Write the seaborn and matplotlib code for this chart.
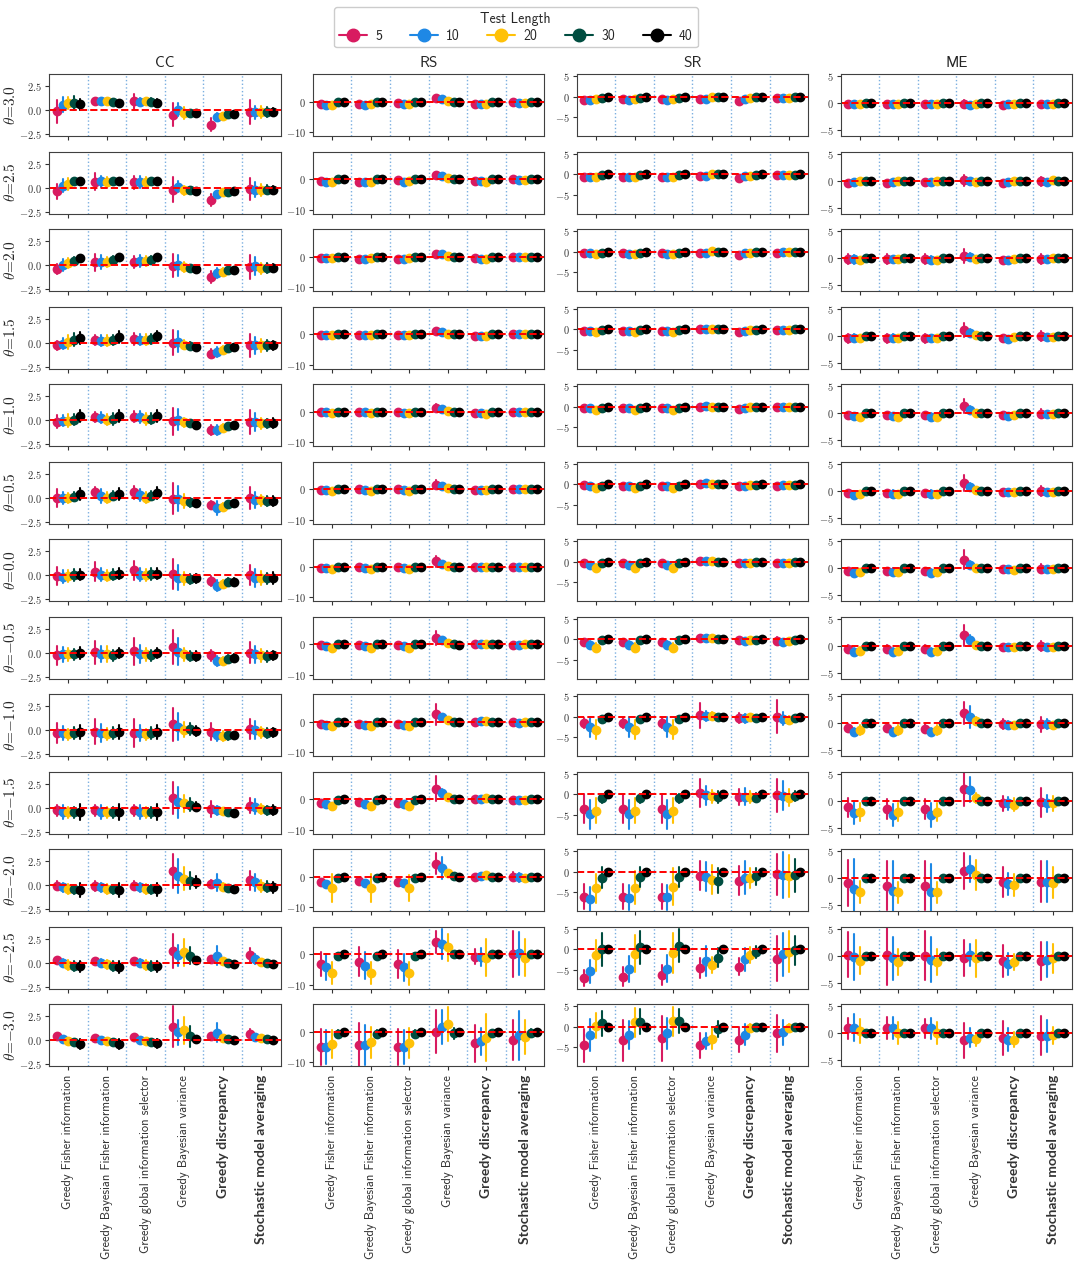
import numpy as np
import pandas as pd
import matplotlib.pyplot as plt
import seaborn as sns
from matplotlib.lines import Line2D
from matplotlib.ticker import FuncFormatter

# ---- categories ----
methods = ["Greedy Fisher information", "Greedy Bayesian Fisher information",
           "Greedy global information selector", "Greedy Bayesian variance",
           "Greedy discrepancy", "Stochastic model averaging"]
bold_methods = ["Greedy discrepancy", "Stochastic model averaging"]
lengths = ["5", "10", "20", "30", "40"]
colors = ["#D81B60", "#1E88E5", "#FFC107", "#004D40", "#000000"]
thetas = [3.0, 2.5, 2.0, 1.5, 1.0, 0.5, 0.0, -0.5, -1.0, -1.5, -2.0, -2.5, -3.0]
metrics = ["CC", "RS", "SR", "ME"]

# ---- values: one row per theta, 6 methods x 5 test lengths (point, half interval) ----
cc_mid = [
    [-0.1, 0.55, 0.75, 0.75, 0.6,  0.9, 0.9, 0.9, 0.8, 0.7,  0.9, 0.85, 0.9, 0.85, 0.75,  -0.5, 0.05, -0.3, -0.35, -0.3,  -1.5, -0.7, -0.6, -0.4, -0.4,  -0.2, -0.25, -0.2, -0.2, -0.2],
    [-0.4, 0.2, 0.4, 0.65, 0.65,  0.6, 0.65, 0.6, 0.7, 0.7,  0.55, 0.6, 0.6, 0.7, 0.7,  -0.2, 0.1, -0.3, -0.3, -0.35,  -1.3, -0.65, -0.5, -0.45, -0.4,  -0.15, -0.2, -0.25, -0.2, -0.2],
    [-0.4, 0.0, 0.2, 0.45, 0.7,  0.3, 0.3, 0.35, 0.55, 0.8,  0.3, 0.45, 0.4, 0.55, 0.8,  -0.05, 0.0, -0.2, -0.35, -0.45,  -1.25, -0.8, -0.7, -0.55, -0.5,  -0.2, -0.1, -0.35, -0.3, -0.3],
    [-0.3, -0.1, 0.05, 0.3, 0.5,  0.3, 0.2, 0.2, 0.3, 0.6,  0.4, 0.3, 0.3, 0.4, 0.65,  0.0, 0.1, -0.2, -0.35, -0.45,  -1.15, -1.0, -0.8, -0.6, -0.5,  -0.3, -0.3, -0.3, -0.3, -0.3],
    [-0.15, -0.05, -0.05, 0.05, 0.45,  0.35, 0.25, 0.05, 0.1, 0.45,  0.35, 0.3, 0.1, 0.15, 0.45,  -0.1, 0.05, -0.25, -0.35, -0.55,  -1.05, -1.0, -0.85, -0.65, -0.55,  -0.2, -0.2, -0.35, -0.35, -0.3],
    [-0.05, -0.05, -0.05, 0.1, 0.35,  0.55, 0.15, 0.0, 0.2, 0.4,  0.55, 0.25, 0.0, 0.2, 0.45,  -0.1, -0.1, -0.35, -0.5, -0.55,  -0.8, -1.1, -0.95, -0.7, -0.6,  -0.05, -0.25, -0.3, -0.35, -0.35],
    [-0.1, -0.15, -0.1, 0.0, 0.05,  0.35, 0.05, -0.05, 0.05, 0.15,  0.5, 0.05, 0.0, 0.1, 0.15,  0.1, -0.3, -0.35, -0.4, -0.35,  -0.6, -1.1, -0.9, -0.7, -0.7,  0.0, -0.3, -0.3, -0.35, -0.3],
    [-0.3, -0.2, -0.2, -0.2, -0.05,  0.05, -0.15, -0.15, -0.3, -0.05,  0.15, -0.15, -0.2, -0.3, -0.05,  0.6, 0.1, -0.2, -0.35, -0.35,  -0.3, -0.9, -0.85, -0.7, -0.6,  0.0, -0.2, -0.3, -0.4, -0.3],
    [-0.3, -0.3, -0.45, -0.3, -0.2,  -0.2, -0.3, -0.4, -0.3, -0.2,  -0.3, -0.3, -0.45, -0.3, -0.2,  0.6, 0.35, 0.05, 0.1, -0.1,  -0.15, -0.55, -0.6, -0.5, -0.5,  0.1, 0.0, -0.25, -0.3, -0.25],
    [-0.3, -0.45, -0.5, -0.5, -0.45,  -0.3, -0.45, -0.5, -0.5, -0.45,  -0.3, -0.45, -0.5, -0.5, -0.45,  1.0, 0.55, 0.45, 0.3, 0.1,  -0.15, -0.3, -0.4, -0.45, -0.55,  0.2, 0.1, -0.15, -0.3, -0.25],
    [-0.05, -0.25, -0.4, -0.45, -0.5,  -0.1, -0.25, -0.4, -0.45, -0.5,  -0.05, -0.25, -0.4, -0.45, -0.45,  1.45, 0.95, 0.65, 0.45, 0.3,  0.1, 0.25, -0.15, -0.3, -0.4,  0.5, 0.3, -0.1, -0.15, -0.25],
    [0.3, -0.05, -0.25, -0.35, -0.4,  0.2, -0.05, -0.2, -0.35, -0.45,  0.2, -0.05, -0.25, -0.35, -0.4,  1.2, 0.75, 1.05, 0.7, 0.25,  0.4, 0.7, 0.15, 0.0, -0.1,  0.75, 0.35, 0.1, -0.05, -0.1],
    [0.4, 0.1, -0.05, -0.2, -0.4,  0.25, 0.05, -0.05, -0.2, -0.4,  0.3, 0.05, -0.05, -0.2, -0.35,  1.4, 0.8, 1.0, 0.4, 0.15,  0.4, 0.75, 0.2, 0.1, 0.05,  0.6, 0.35, 0.2, 0.1, 0.05],
]
cc_err = [
    [1.2, 0.8, 0.6, 0.7, 0.6,  0.4, 0.4, 0.4, 0.4, 0.4,  0.8, 0.4, 0.4, 0.4, 0.4,  1.2, 0.7, 0.6, 0.4, 0.3,  0.7, 0.4, 0.25, 0.15, 0.1,  1.2, 0.7, 0.6, 0.5, 0.4],
    [0.8, 0.7, 0.6, 0.3, 0.3,  0.9, 0.6, 0.5, 0.2, 0.2,  0.7, 0.6, 0.5, 0.2, 0.2,  1.3, 0.6, 0.5, 0.4, 0.3,  0.6, 0.3, 0.2, 0.15, 0.1,  1.1, 0.8, 0.6, 0.5, 0.4],
    [0.5, 0.6, 0.5, 0.4, 0.3,  0.9, 0.7, 0.5, 0.4, 0.3,  0.6, 0.6, 0.5, 0.4, 0.3,  1.2, 1.1, 0.5, 0.4, 0.3,  0.6, 0.5, 0.4, 0.2, 0.15,  1.2, 0.9, 0.6, 0.5, 0.4],
    [0.5, 0.6, 0.7, 0.7, 0.6,  0.5, 0.6, 0.6, 0.5, 0.6,  0.6, 0.6, 0.6, 0.5, 0.6,  1.3, 1.1, 0.5, 0.4, 0.3,  0.5, 0.5, 0.4, 0.3, 0.2,  1.2, 0.9, 0.7, 0.6, 0.5],
    [0.7, 0.6, 0.7, 0.6, 0.6,  0.5, 0.6, 0.6, 0.6, 0.6,  0.6, 0.6, 0.6, 0.6, 0.6,  1.4, 1.1, 0.5, 0.4, 0.4,  0.5, 0.5, 0.4, 0.3, 0.2,  1.2, 0.9, 0.6, 0.5, 0.5],
    [0.9, 0.6, 0.5, 0.5, 0.6,  0.6, 0.7, 0.6, 0.5, 0.6,  0.7, 0.6, 0.6, 0.5, 0.6,  1.6, 1.3, 0.7, 0.5, 0.4,  0.4, 0.7, 0.4, 0.3, 0.2,  1.1, 0.8, 0.6, 0.5, 0.5],
    [0.9, 0.7, 0.6, 0.6, 0.6,  1.0, 0.7, 0.6, 0.6, 0.6,  1.0, 0.7, 0.6, 0.6, 0.6,  1.6, 1.3, 0.7, 0.5, 0.5,  0.5, 0.6, 0.4, 0.4, 0.4,  1.0, 0.9, 0.7, 0.6, 0.6],
    [1.0, 0.8, 0.7, 0.6, 0.6,  1.2, 0.8, 0.8, 0.6, 0.5,  1.4, 0.9, 0.7, 0.6, 0.5,  1.8, 1.4, 0.7, 0.5, 0.5,  0.6, 0.5, 0.4, 0.4, 0.4,  1.1, 0.9, 0.7, 0.6, 0.5],
    [1.0, 0.7, 0.6, 0.6, 0.7,  1.3, 0.9, 0.6, 0.6, 0.7,  1.5, 0.8, 0.6, 0.6, 0.7,  1.7, 1.4, 0.8, 0.6, 0.5,  0.9, 0.6, 0.5, 0.5, 0.3,  1.0, 0.9, 0.6, 0.5, 0.5],
    [0.6, 0.7, 0.6, 0.6, 0.8,  0.6, 0.7, 0.6, 0.6, 0.8,  0.6, 0.7, 0.6, 0.6, 0.8,  1.7, 1.6, 0.9, 0.7, 0.5,  0.8, 0.5, 0.4, 0.4, 0.3,  0.8, 0.8, 0.5, 0.5, 0.5],
    [0.5, 0.5, 0.5, 0.5, 0.7,  0.5, 0.5, 0.5, 0.5, 0.7,  0.5, 0.5, 0.5, 0.5, 0.7,  1.8, 1.8, 1.2, 0.9, 0.6,  0.4, 0.9, 0.4, 0.3, 0.3,  1.0, 0.9, 0.6, 0.6, 0.6],
    [0.3, 0.4, 0.5, 0.5, 0.6,  0.3, 0.4, 0.5, 0.5, 0.6,  0.3, 0.4, 0.5, 0.5, 0.6,  1.8, 1.1, 1.4, 0.9, 0.2,  0.3, 1.0, 0.3, 0.2, 0.2,  0.8, 0.5, 0.3, 0.2, 0.3],
    [0.2, 0.2, 0.3, 0.3, 0.5,  0.2, 0.2, 0.3, 0.3, 0.5,  0.2, 0.2, 0.3, 0.3, 0.5,  2.1, 1.3, 1.4, 1.1, 0.2,  0.2, 1.0, 0.2, 0.1, 0.1,  0.5, 0.3, 0.2, 0.1, 0.1],
]

rs_mid = [
    [-0.9, -1.0, -1.0, -0.2, 0.0,  -0.9, -1.0, -0.8, -0.2, 0.0,  -0.3, -0.9, -0.6, -0.2, 0.0,  1.3, 0.9, 0.3, -0.1, -0.1,  -0.6, -0.7, -0.9, -0.1, 0.0,  -0.2, -0.3, -0.3, -0.2, 0.0],
    [-0.7, -0.8, -0.8, -0.1, 0.0,  -0.8, -0.9, -0.8, -0.1, 0.0,  -0.4, -0.8, -0.6, -0.1, 0.0,  1.4, 1.0, 0.3, 0.0, 0.0,  -0.6, -0.7, -0.8, -0.1, 0.0,  -0.1, -0.2, -0.2, -0.1, 0.0],
    [-0.5, -0.5, -0.4, -0.1, 0.0,  -0.6, -0.6, -0.5, -0.1, 0.0,  -0.6, -0.6, -0.5, -0.1, 0.0,  1.0, 0.8, 0.2, -0.1, -0.1,  -0.5, -0.6, -0.7, -0.1, 0.0,  0.0, 0.0, 0.0, 0.0, 0.0],
    [-0.3, -0.3, -0.3, 0.0, 0.0,  -0.3, -0.3, -0.4, 0.0, 0.0,  -0.4, -0.4, -0.4, 0.0, 0.0,  1.1, 0.7, 0.2, -0.1, -0.1,  -0.5, -0.5, -0.6, 0.0, 0.0,  0.0, 0.0, 0.0, 0.0, 0.0],
    [-0.2, -0.2, -0.3, 0.0, 0.0,  -0.1, -0.2, -0.3, 0.0, 0.0,  -0.2, -0.3, -0.3, 0.0, 0.0,  1.3, 0.8, 0.2, -0.1, -0.1,  -0.4, -0.5, -0.6, 0.0, 0.0,  0.0, 0.0, -0.1, 0.0, 0.0],
    [-0.2, -0.3, -0.6, 0.0, 0.0,  0.0, -0.2, -0.6, 0.0, 0.0,  -0.1, -0.2, -0.6, 0.0, 0.0,  1.5, 1.0, 0.3, -0.1, -0.1,  -0.2, -0.3, -0.4, 0.0, 0.0,  0.0, -0.1, -0.1, 0.0, 0.0],
    [-0.3, -0.4, -0.9, -0.1, 0.0,  -0.2, -0.4, -0.9, -0.1, 0.0,  -0.2, -0.4, -0.9, -0.1, 0.0,  1.8, 1.0, 0.3, -0.1, -0.2,  -0.2, -0.2, -0.1, 0.0, 0.0,  0.0, -0.1, -0.2, 0.0, 0.0],
    [-0.3, -0.6, -1.1, -0.1, 0.0,  -0.3, -0.6, -1.1, -0.1, 0.0,  -0.3, -0.6, -1.1, -0.1, 0.0,  2.0, 1.2, 0.3, -0.1, -0.2,  -0.1, 0.0, 0.0, 0.0, 0.0,  -0.2, -0.2, -0.1, 0.0, 0.0],
    [-0.7, -1.0, -1.4, -0.1, 0.0,  -0.7, -1.0, -1.4, -0.1, 0.0,  -0.7, -1.0, -1.4, -0.1, 0.0,  2.4, 1.5, 0.6, -0.1, -0.1,  0.0, 0.2, 0.2, 0.0, 0.0,  -0.1, -0.3, -0.1, 0.0, 0.0],
    [-1.2, -1.5, -2.2, -0.2, 0.0,  -1.0, -1.5, -2.1, -0.2, 0.0,  -1.1, -1.5, -2.2, -0.2, 0.0,  3.4, 2.0, 0.8, 0.0, -0.1,  0.0, 0.2, 0.3, 0.0, 0.0,  -0.2, -0.2, -0.3, 0.0, 0.0],
    [-1.7, -2.3, -3.8, -0.3, 0.0,  -1.4, -2.2, -3.7, -0.3, 0.0,  -1.8, -2.2, -3.7, -0.3, 0.0,  4.2, 2.8, 1.2, 0.2, 0.0,  0.0, 0.1, 0.4, 0.0, 0.0,  0.0, -0.2, -0.4, 0.0, 0.0],
    [-3.2, -4.3, -6.2, -0.6, 0.0,  -2.4, -3.8, -6.2, -0.6, 0.0,  -3.2, -4.2, -6.2, -0.6, 0.0,  4.0, 3.3, 2.2, 0.2, 0.0,  -0.8, -1.0, -1.2, -0.1, 0.0,  0.2, 0.3, -1.1, 0.0, 0.0],
    [-5.0, -5.0, -4.0, -0.8, 0.0,  -4.3, -4.5, -3.5, -0.8, 0.0,  -5.0, -5.0, -3.7, -0.8, 0.0,  0.0, 1.5, 2.4, -0.5, -0.2,  -3.8, -3.2, -2.0, -0.5, 0.0,  -2.8, -1.2, -1.8, -0.5, 0.0],
]
rs_err = [
    [0.5, 0.4, 0.4, 0.3, 0.2,  0.5, 0.4, 0.4, 0.3, 0.2,  0.5, 0.4, 0.4, 0.3, 0.2,  0.9, 0.5, 0.4, 0.3, 0.2,  0.5, 0.4, 0.4, 0.3, 0.2,  0.5, 0.4, 0.4, 0.3, 0.2],
    [0.5, 0.4, 0.4, 0.3, 0.2,  0.5, 0.4, 0.4, 0.3, 0.2,  0.5, 0.4, 0.4, 0.3, 0.2,  0.9, 0.5, 0.4, 0.3, 0.2,  0.5, 0.4, 0.4, 0.3, 0.2,  0.5, 0.4, 0.4, 0.3, 0.2],
    [0.5, 0.4, 0.4, 0.3, 0.2,  0.5, 0.4, 0.4, 0.3, 0.2,  0.5, 0.4, 0.4, 0.3, 0.2,  0.9, 0.5, 0.4, 0.3, 0.2,  0.5, 0.4, 0.4, 0.3, 0.2,  0.5, 0.4, 0.4, 0.3, 0.2],
    [0.5, 0.4, 0.4, 0.3, 0.2,  0.5, 0.4, 0.4, 0.3, 0.2,  0.5, 0.4, 0.4, 0.3, 0.2,  0.9, 0.5, 0.4, 0.3, 0.2,  0.5, 0.4, 0.4, 0.3, 0.2,  0.5, 0.4, 0.4, 0.3, 0.2],
    [0.5, 0.4, 0.4, 0.3, 0.2,  0.5, 0.4, 0.4, 0.3, 0.2,  0.5, 0.4, 0.4, 0.3, 0.2,  1.2, 0.6, 0.4, 0.3, 0.2,  0.5, 0.4, 0.4, 0.3, 0.2,  0.6, 0.4, 0.4, 0.3, 0.2],
    [0.5, 0.4, 0.4, 0.3, 0.2,  0.5, 0.4, 0.4, 0.3, 0.2,  0.5, 0.4, 0.4, 0.3, 0.2,  1.5, 0.6, 0.4, 0.3, 0.2,  0.5, 0.4, 0.4, 0.3, 0.2,  0.7, 0.4, 0.4, 0.3, 0.2],
    [0.5, 0.5, 0.5, 0.3, 0.2,  0.6, 0.5, 0.5, 0.3, 0.2,  0.6, 0.5, 0.5, 0.3, 0.2,  1.8, 0.7, 0.4, 0.3, 0.2,  0.5, 0.4, 0.4, 0.3, 0.2,  0.8, 0.4, 0.4, 0.3, 0.2],
    [0.6, 0.5, 0.6, 0.3, 0.2,  0.8, 0.5, 0.6, 0.3, 0.2,  0.6, 0.5, 0.6, 0.3, 0.2,  2.2, 0.8, 0.5, 0.3, 0.2,  0.5, 0.4, 0.4, 0.3, 0.2,  1.0, 0.5, 0.4, 0.3, 0.2],
    [0.6, 0.6, 0.7, 0.3, 0.2,  0.6, 0.6, 0.7, 0.3, 0.2,  0.6, 0.6, 0.7, 0.3, 0.2,  3.5, 1.0, 0.6, 0.3, 0.2,  0.5, 0.5, 0.5, 0.3, 0.2,  0.9, 0.6, 0.5, 0.3, 0.2],
    [0.8, 0.7, 1.0, 0.3, 0.2,  0.8, 0.7, 1.0, 0.3, 0.2,  0.8, 0.7, 1.0, 0.3, 0.2,  4.0, 1.2, 0.6, 0.2, 0.2,  0.5, 0.5, 0.5, 0.3, 0.2,  0.9, 0.8, 0.6, 0.3, 0.2],
    [0.6, 0.8, 4.5, 0.3, 0.2,  0.8, 0.8, 4.5, 0.3, 0.2,  0.7, 0.8, 4.2, 0.3, 0.2,  3.5, 3.5, 1.0, 0.4, 0.2,  0.6, 0.7, 0.5, 0.2, 0.2,  1.5, 1.5, 1.0, 0.3, 0.2],
    [4.0, 4.2, 3.5, 0.8, 0.3,  4.6, 4.4, 3.5, 0.8, 0.3,  4.5, 4.4, 3.8, 0.8, 0.3,  3.5, 5.0, 4.5, 0.5, 0.3,  2.5, 3.0, 6.0, 0.6, 0.3,  7.5, 7.0, 6.0, 0.4, 0.3],
    [5.8, 5.5, 4.5, 1.2, 0.5,  7.0, 6.5, 5.0, 1.2, 0.5,  5.8, 5.5, 5.0, 1.2, 0.5,  7.0, 5.5, 5.5, 1.8, 0.4,  6.0, 4.5, 7.6, 1.0, 0.4,  6.5, 8.0, 5.5, 1.2, 0.4],
]

sr_mid = [
    [-0.8, -0.8, -0.6, -0.2, 0.0,  -0.6, -0.7, -0.6, -0.2, 0.0,  -0.6, -0.7, -0.6, -0.2, 0.0,  -0.5, -0.5, -0.1, -0.1, 0.0,  -1.1, -0.5, -0.4, -0.1, 0.0,  -0.2, -0.2, -0.2, -0.1, 0.0],
    [-0.7, -0.7, -0.6, -0.2, 0.0,  -0.6, -0.7, -0.6, -0.2, 0.0,  -0.6, -0.7, -0.6, -0.2, 0.0,  -0.4, -0.4, 0.0, 0.0, 0.0,  -1.0, -0.4, -0.3, -0.1, 0.0,  -0.1, -0.2, -0.2, -0.1, 0.0],
    [-0.4, -0.4, -0.6, -0.2, 0.0,  -0.4, -0.5, -0.6, -0.2, 0.0,  -0.3, -0.5, -0.6, -0.2, 0.0,  -0.2, -0.2, 0.1, 0.0, 0.0,  -0.7, -0.4, -0.2, -0.1, 0.0,  -0.2, -0.1, -0.1, 0.0, 0.0],
    [-0.3, -0.4, -0.6, -0.2, 0.0,  -0.3, -0.4, -0.6, -0.2, 0.0,  -0.3, -0.4, -0.6, -0.2, 0.0,  0.0, 0.1, 0.0, 0.0, 0.0,  -0.6, -0.4, -0.1, -0.1, 0.0,  -0.1, -0.1, -0.1, 0.0, 0.0],
    [-0.2, -0.4, -0.8, -0.3, 0.0,  -0.2, -0.4, -0.8, -0.3, 0.0,  -0.2, -0.4, -0.8, -0.3, 0.0,  0.0, 0.2, 0.0, 0.0, 0.0,  -0.6, -0.4, -0.1, -0.1, 0.0,  -0.1, -0.1, -0.1, 0.0, 0.0],
    [-0.2, -0.5, -1.0, -0.3, 0.0,  -0.3, -0.5, -1.0, -0.3, 0.0,  -0.3, -0.5, -1.0, -0.3, 0.0,  0.1, 0.3, 0.1, 0.0, 0.0,  -0.5, -0.5, -0.2, -0.1, 0.0,  -0.3, -0.2, -0.2, -0.1, 0.0],
    [-0.3, -0.9, -1.5, -0.3, 0.0,  -0.3, -0.9, -1.5, -0.3, 0.0,  -0.3, -0.9, -1.5, -0.3, 0.0,  0.3, 0.3, 0.1, 0.0, 0.0,  -0.4, -0.4, -0.2, -0.1, 0.0,  -0.4, -0.3, -0.2, -0.1, 0.0],
    [-0.7, -1.3, -2.1, -0.3, 0.0,  -0.7, -1.3, -2.1, -0.3, 0.0,  -0.7, -1.3, -2.1, -0.3, 0.0,  0.2, 0.3, 0.2, 0.0, 0.0,  -0.3, -0.4, -0.2, -0.1, 0.0,  -0.4, -0.6, -0.4, -0.1, 0.0],
    [-1.6, -2.4, -3.1, -0.6, 0.0,  -1.6, -2.4, -3.1, -0.6, 0.0,  -1.6, -2.4, -3.1, -0.6, 0.0,  0.4, 0.1, 0.1, 0.0, 0.0,  -0.3, -0.4, -0.1, -0.2, 0.0,  0.0, -0.5, -0.8, -0.2, 0.0],
    [-3.5, -4.8, -4.0, -1.0, 0.0,  -3.5, -4.8, -4.0, -1.0, 0.0,  -3.5, -4.8, -4.0, -1.0, 0.0,  0.3, -0.3, -0.5, -0.6, 0.0,  -0.7, -0.6, -0.6, -0.8, 0.0,  -0.2, -0.4, -0.8, -0.5, 0.0],
    [-6.0, -6.6, -4.0, -1.4, 0.0,  -6.0, -6.3, -3.9, -1.3, 0.0,  -6.0, -6.2, -3.6, -1.3, 0.0,  -1.0, -1.2, -1.9, -2.2, 0.0,  -2.2, -1.5, -1.5, -1.1, 0.0,  -0.6, -0.8, -1.0, -0.8, 0.0],
    [-7.0, -5.3, -1.5, 0.0, 0.0,  -6.6, -4.8, -1.1, 0.5, 0.0,  -6.2, -4.7, -0.9, 0.8, 0.0,  -4.5, -2.9, -3.8, -2.1, 0.0,  -4.2, -2.4, -1.4, -0.7, 0.0,  -2.3, -1.2, -0.6, -0.3, 0.0],
    [-4.5, -2.0, 0.3, 0.8, 0.0,  -3.3, -2.0, 1.1, 1.2, 0.0,  -2.8, -1.6, 1.3, 1.4, 0.0,  -4.5, -3.4, -2.9, -0.5, 0.0,  -3.1, -1.9, -0.2, 0.0, 0.0,  -1.6, -1.3, -0.2, 0.0, 0.0],
]
sr_err = [
    [0.3, 0.3, 0.3, 0.2, 0.2,  0.3, 0.3, 0.3, 0.2, 0.2,  0.3, 0.3, 0.3, 0.2, 0.2,  0.3, 0.3, 0.3, 0.2, 0.2,  0.3, 0.3, 0.3, 0.2, 0.2,  0.3, 0.3, 0.3, 0.2, 0.2],
    [0.3, 0.3, 0.3, 0.2, 0.2,  0.3, 0.3, 0.3, 0.2, 0.2,  0.3, 0.3, 0.3, 0.2, 0.2,  0.3, 0.3, 0.3, 0.2, 0.2,  0.3, 0.3, 0.3, 0.2, 0.2,  0.3, 0.3, 0.3, 0.2, 0.2],
    [0.3, 0.3, 0.3, 0.2, 0.2,  0.3, 0.3, 0.3, 0.2, 0.2,  0.3, 0.3, 0.3, 0.2, 0.2,  0.4, 0.3, 0.3, 0.2, 0.2,  0.3, 0.3, 0.3, 0.2, 0.2,  0.4, 0.3, 0.3, 0.2, 0.2],
    [0.3, 0.3, 0.3, 0.2, 0.2,  0.3, 0.3, 0.3, 0.2, 0.2,  0.3, 0.3, 0.3, 0.2, 0.2,  0.5, 0.3, 0.3, 0.2, 0.2,  0.3, 0.3, 0.3, 0.2, 0.2,  0.5, 0.3, 0.3, 0.2, 0.2],
    [0.3, 0.3, 0.4, 0.2, 0.2,  0.3, 0.3, 0.4, 0.2, 0.2,  0.3, 0.3, 0.4, 0.2, 0.2,  0.5, 0.3, 0.3, 0.2, 0.2,  0.3, 0.3, 0.3, 0.2, 0.2,  0.6, 0.3, 0.3, 0.2, 0.2],
    [0.4, 0.5, 0.6, 0.3, 0.2,  0.4, 0.5, 0.6, 0.3, 0.2,  0.4, 0.5, 0.6, 0.3, 0.2,  0.6, 0.3, 0.3, 0.2, 0.2,  0.3, 0.3, 0.3, 0.2, 0.2,  0.7, 0.4, 0.3, 0.2, 0.2],
    [0.4, 0.6, 0.9, 0.3, 0.2,  0.4, 0.6, 0.9, 0.3, 0.2,  0.4, 0.6, 0.9, 0.3, 0.2,  0.5, 0.3, 0.3, 0.2, 0.2,  0.3, 0.3, 0.3, 0.2, 0.2,  0.8, 0.4, 0.3, 0.2, 0.2],
    [0.6, 0.8, 1.1, 0.3, 0.2,  0.6, 0.8, 1.1, 0.3, 0.2,  0.6, 0.8, 1.1, 0.3, 0.2,  0.7, 0.3, 0.3, 0.2, 0.2,  0.3, 0.3, 0.3, 0.2, 0.2,  1.0, 0.5, 0.3, 0.2, 0.2],
    [1.2, 2.4, 2.4, 0.4, 0.2,  1.2, 2.4, 2.4, 0.4, 0.2,  1.2, 2.4, 2.4, 0.4, 0.2,  3.0, 1.2, 1.0, 0.5, 0.3,  1.2, 1.0, 0.5, 0.4, 0.2,  4.0, 1.6, 1.0, 0.5, 0.2],
    [3.5, 3.5, 3.0, 1.0, 0.2,  3.5, 3.5, 3.0, 1.0, 0.2,  3.5, 3.5, 3.0, 1.0, 0.2,  3.5, 2.2, 1.5, 1.5, 0.3,  2.0, 2.0, 1.5, 1.0, 0.2,  4.0, 3.5, 2.0, 1.2, 0.3],
    [3.0, 2.8, 3.5, 2.5, 0.3,  3.0, 3.0, 4.0, 2.5, 0.3,  3.0, 3.0, 4.5, 2.5, 0.3,  3.5, 3.5, 3.5, 3.0, 0.3,  3.5, 4.0, 2.5, 2.0, 0.3,  5.0, 5.5, 5.0, 4.0, 0.3],
    [2.0, 2.8, 3.8, 4.0, 0.3,  2.2, 3.2, 4.5, 4.0, 0.3,  2.5, 3.3, 4.8, 4.0, 0.3,  2.5, 3.6, 2.0, 2.3, 0.3,  2.0, 2.8, 2.0, 1.5, 0.3,  5.5, 5.2, 5.0, 3.5, 0.3],
    [4.0, 3.8, 3.0, 3.0, 0.3,  5.0, 3.5, 3.5, 3.0, 0.3,  5.5, 3.8, 3.5, 3.0, 0.3,  3.0, 2.0, 2.5, 2.0, 0.3,  3.0, 2.5, 0.8, 0.3, 0.3,  4.5, 3.0, 0.8, 0.3, 0.3],
]

me_mid = [
    [-0.1, -0.1, -0.1, 0.0, 0.0,  -0.2, -0.1, -0.1, 0.0, 0.0,  -0.2, -0.1, -0.1, 0.0, 0.0,  -0.1, -0.3, -0.2, 0.0, 0.0,  -0.3, -0.1, -0.1, 0.0, 0.0,  -0.2, -0.1, -0.1, 0.0, 0.0],
    [-0.4, -0.2, -0.1, 0.0, 0.0,  -0.4, -0.2, -0.1, 0.0, 0.0,  -0.3, -0.2, -0.1, 0.0, 0.0,  0.1, -0.1, -0.2, 0.0, 0.0,  -0.4, -0.3, -0.1, 0.0, 0.0,  -0.1, -0.2, 0.2, 0.0, 0.0],
    [-0.2, -0.2, -0.3, 0.0, 0.0,  -0.2, -0.2, -0.2, 0.0, 0.0,  -0.2, -0.3, -0.3, 0.0, 0.0,  0.5, 0.3, -0.1, 0.0, 0.0,  -0.4, -0.4, -0.2, 0.0, 0.0,  -0.1, -0.1, 0.0, 0.0, 0.0],
    [-0.5, -0.4, -0.5, 0.0, 0.0,  -0.5, -0.4, -0.5, 0.0, 0.0,  -0.5, -0.5, -0.5, 0.0, 0.0,  1.0, 0.6, 0.1, 0.0, 0.0,  -0.5, -0.6, -0.3, 0.0, 0.0,  -0.1, -0.2, -0.3, 0.0, 0.0],
    [-0.4, -0.5, -0.6, 0.0, 0.0,  -0.4, -0.5, -0.6, 0.0, 0.0,  -0.4, -0.6, -0.6, 0.0, 0.0,  1.3, 0.6, 0.1, 0.0, 0.0,  -0.4, -0.5, -0.4, 0.0, 0.0,  -0.1, -0.2, -0.2, 0.0, 0.0],
    [-0.4, -0.8, -0.6, 0.0, 0.0,  -0.4, -0.6, -0.6, 0.0, 0.0,  -0.4, -0.6, -0.6, 0.0, 0.0,  1.5, 0.7, 0.1, 0.0, 0.0,  -0.3, -0.3, -0.3, 0.0, 0.0,  -0.1, -0.2, -0.2, 0.0, 0.0],
    [-0.5, -0.8, -0.7, 0.0, 0.0,  -0.5, -0.7, -0.7, 0.0, 0.0,  -0.5, -0.8, -0.7, 0.0, 0.0,  1.6, 0.6, 0.1, 0.0, 0.0,  -0.2, -0.2, -0.3, 0.0, 0.0,  -0.1, -0.1, -0.2, 0.0, 0.0],
    [-0.6, -1.2, -0.9, 0.0, 0.0,  -0.6, -1.2, -0.9, 0.0, 0.0,  -0.6, -1.2, -0.9, 0.0, 0.0,  1.9, 1.0, 0.2, 0.0, 0.0,  -0.2, -0.2, -0.3, 0.0, 0.0,  -0.1, -0.2, -0.3, 0.0, 0.0],
    [-0.9, -1.6, -1.3, 0.0, 0.0,  -0.9, -1.6, -1.3, 0.0, 0.0,  -1.0, -1.6, -1.3, 0.0, 0.0,  1.9, 1.2, 0.4, 0.0, 0.0,  -0.2, -0.3, -0.4, 0.0, 0.0,  -0.2, -0.2, -0.3, 0.0, 0.0],
    [-1.2, -2.3, -2.1, 0.0, 0.0,  -1.5, -2.6, -2.1, 0.0, 0.0,  -1.5, -2.7, -2.1, 0.0, 0.0,  2.1, 2.0, 0.5, 0.0, 0.0,  -0.5, -0.5, -0.7, 0.0, 0.0,  -0.3, -0.5, -0.5, 0.0, 0.0],
    [-0.9, -1.9, -2.5, 0.0, 0.0,  -1.4, -2.4, -2.6, 0.0, 0.0,  -1.4, -2.6, -2.6, 0.0, 0.0,  1.3, 1.8, 0.6, 0.0, 0.0,  -0.7, -1.1, -1.2, 0.0, 0.0,  -0.6, -0.6, -0.8, 0.0, 0.0],
    [0.2, -0.2, -0.9, 0.0, 0.0,  0.1, -0.5, -1.2, 0.0, 0.0,  0.0, -0.7, -1.2, 0.0, 0.0,  -0.4, 0.1, -0.5, 0.0, 0.0,  -1.0, -1.5, -1.2, 0.0, 0.0,  -0.9, -0.7, -0.5, 0.0, 0.0],
    [0.9, 1.0, 0.4, 0.0, 0.0,  1.0, 1.0, 0.0, 0.0, 0.0,  0.9, 0.9, 0.0, 0.0, 0.0,  -1.3, -0.8, -1.1, 0.0, 0.0,  -0.9, -1.2, -1.2, 0.0, 0.0,  -0.5, -0.5, -0.4, 0.0, 0.0],
]
me_err = [
    [0.5, 0.5, 0.3, 0.2, 0.1,  0.6, 0.4, 0.3, 0.2, 0.1,  0.5, 0.4, 0.3, 0.2, 0.1,  0.7, 0.4, 0.3, 0.2, 0.1,  0.5, 0.4, 0.3, 0.2, 0.1,  0.6, 0.4, 0.3, 0.2, 0.1],
    [0.6, 0.6, 0.3, 0.2, 0.1,  0.6, 0.6, 0.3, 0.2, 0.1,  0.6, 0.6, 0.3, 0.2, 0.1,  1.0, 0.6, 0.3, 0.2, 0.1,  0.5, 0.4, 0.3, 0.2, 0.1,  0.8, 0.6, 0.3, 0.2, 0.1],
    [0.9, 0.8, 0.4, 0.2, 0.1,  0.9, 0.7, 0.4, 0.2, 0.1,  0.9, 0.7, 0.4, 0.2, 0.1,  1.3, 0.6, 0.4, 0.2, 0.1,  0.6, 0.5, 0.3, 0.2, 0.1,  0.9, 0.6, 0.3, 0.2, 0.1],
    [0.8, 0.7, 0.4, 0.2, 0.1,  0.8, 0.7, 0.4, 0.2, 0.1,  0.8, 0.7, 0.4, 0.2, 0.1,  1.3, 0.7, 0.4, 0.2, 0.1,  0.6, 0.5, 0.3, 0.2, 0.1,  0.9, 0.6, 0.4, 0.2, 0.1],
    [0.5, 0.6, 0.5, 0.2, 0.1,  0.5, 0.6, 0.5, 0.2, 0.1,  0.5, 0.6, 0.5, 0.2, 0.1,  1.3, 0.7, 0.4, 0.2, 0.1,  0.5, 0.5, 0.3, 0.2, 0.1,  0.8, 0.6, 0.4, 0.2, 0.1],
    [0.6, 0.7, 0.6, 0.2, 0.1,  0.6, 0.7, 0.6, 0.2, 0.1,  0.6, 0.7, 0.6, 0.2, 0.1,  1.5, 0.8, 0.4, 0.2, 0.1,  0.5, 0.5, 0.3, 0.2, 0.1,  0.9, 0.6, 0.4, 0.2, 0.1],
    [0.6, 0.7, 0.6, 0.2, 0.1,  0.6, 0.7, 0.6, 0.2, 0.1,  0.6, 0.7, 0.6, 0.2, 0.1,  1.8, 0.8, 0.4, 0.2, 0.1,  0.5, 0.5, 0.3, 0.2, 0.1,  0.8, 0.6, 0.4, 0.2, 0.1],
    [0.7, 0.7, 0.7, 0.2, 0.1,  0.7, 0.7, 0.7, 0.2, 0.1,  0.7, 0.7, 0.7, 0.2, 0.1,  2.0, 1.0, 0.4, 0.2, 0.1,  0.5, 0.5, 0.3, 0.2, 0.1,  0.9, 0.6, 0.4, 0.2, 0.1],
    [0.8, 0.8, 0.9, 0.2, 0.1,  0.8, 0.8, 0.9, 0.2, 0.1,  0.8, 0.8, 0.9, 0.2, 0.1,  2.0, 2.0, 0.7, 0.2, 0.1,  0.9, 0.7, 0.5, 0.2, 0.1,  1.4, 0.9, 0.6, 0.2, 0.1],
    [1.8, 2.0, 1.6, 0.2, 0.1,  1.8, 2.0, 1.6, 0.2, 0.1,  1.9, 2.2, 1.6, 0.2, 0.1,  3.0, 2.3, 1.0, 0.2, 0.1,  1.3, 1.2, 1.2, 0.2, 0.1,  2.7, 1.6, 1.3, 0.2, 0.1],
    [4.2, 5.4, 2.0, 0.2, 0.1,  4.5, 5.5, 2.0, 0.2, 0.1,  4.5, 5.2, 2.0, 0.2, 0.1,  3.3, 2.4, 2.8, 0.2, 0.1,  2.8, 2.0, 2.0, 0.2, 0.1,  3.8, 3.8, 2.8, 0.2, 0.1],
    [4.2, 4.3, 2.5, 0.2, 0.1,  5.5, 4.0, 2.4, 0.2, 0.1,  4.5, 4.2, 2.4, 0.2, 0.1,  3.3, 2.0, 3.4, 0.2, 0.1,  3.0, 2.0, 1.5, 0.2, 0.1,  3.5, 3.2, 2.6, 0.2, 0.1],
    [2.0, 2.5, 2.2, 0.2, 0.1,  2.0, 2.0, 2.0, 0.2, 0.1,  1.8, 1.9, 2.0, 0.2, 0.1,  3.2, 1.8, 1.2, 0.2, 0.1,  3.2, 2.1, 1.4, 0.2, 0.1,  3.6, 3.0, 1.6, 0.2, 0.1],
]

metric_mid = [cc_mid, rs_mid, sr_mid, me_mid]
metric_err = [cc_err, rs_err, sr_err, me_err]
ylims = [(-2.7, 3.75), (-11.2, 9.0), (-9.5, 5.5), (-6.05, 5.4)]
yticks = [[-2.5, 0.0, 2.5], [-10, 0], [-5, 0, 5], [-5, 0, 5]]
yfmt = ["{:.1f}", "{:.0f}", "{:.0f}", "{:.0f}"]


def long_frame(mid_row, err_row):
    # three observations per point: lower end, estimate, upper end
    rec = []
    for k, (m, e) in enumerate(zip(mid_row, err_row)):
        for v in (m - e, m, m + e):
            rec.append((methods[k // 5], lengths[k % 5], v))
    return pd.DataFrame(rec, columns=["method", "length", "value"])


def span(v):
    return (v.min(), v.max())


sns.set_style("ticks")
plt.rcParams["font.family"] = ["cmss10", "DejaVu Sans"]
plt.rcParams["mathtext.fontset"] = "cm"
plt.rcParams["axes.edgecolor"] = "0.25"
plt.rcParams["xtick.major.size"] = 3
plt.rcParams["ytick.major.size"] = 3
plt.rcParams["xtick.color"] = "0.2"
plt.rcParams["ytick.color"] = "0.2"

fig, axes = plt.subplots(13, 4, figsize=(10.79, 12.68), dpi=100, sharex=True)
fig.subplots_adjust(left=0.0455, right=0.9935, top=0.9416, bottom=0.1593,
                    wspace=0.14, hspace=0.25)

for j in range(4):
    for i in range(13):
        ax = axes[i, j]
        df = long_frame(metric_mid[j][i], metric_err[j][i])
        sns.pointplot(data=df, x="method", y="value", hue="length",
                      order=methods, hue_order=lengths, palette=colors,
                      estimator="median", errorbar=span, dodge=0.6,
                      linestyle="none", markers="o", markersize=5,
                      err_kws={"linewidth": 1.5}, legend=False, ax=ax)
        for xv in np.arange(0.5, 5.5, 1.0):
            ax.axvline(xv, color="#7aaee0", linestyle=":", linewidth=1)
        ax.axhline(0, color="red", linestyle="--", linewidth=1.4)
        ax.set_xlim(-0.5, 5.5)
        ax.set_ylim(*ylims[j])
        ax.set_yticks(yticks[j])
        ax.yaxis.set_major_formatter(
            FuncFormatter(lambda v, p, f=yfmt[j]: "$" + f.format(v) + "$"))
        ax.tick_params(axis="y", labelsize=7.5, pad=2)
        ax.set_xlabel("")
        if j == 0:
            t = thetas[i]
            lab = r"$\theta$=" + (r"$-$" if t < 0 else "") + f"{abs(t):.1f}"
            ax.set_ylabel(lab, fontfamily="cmr10", fontsize=11, labelpad=1)
        else:
            ax.set_ylabel("")
        if i == 0:
            ax.set_title(metrics[j], fontsize=11, pad=5)
        if i == 12:
            ax.set_xticks(range(6))
            ax.set_xticklabels(methods, rotation=90, fontsize=9)
            for tl in ax.get_xticklabels():
                if tl.get_text() in bold_methods:
                    tl.set_fontfamily("Lato")
                    tl.set_fontweight("bold")
                    tl.set_fontsize(10)
        else:
            ax.tick_params(axis="x", labelbottom=False)

handles = [Line2D([0], [0], color=c, marker="o", markersize=9, linewidth=1.5)
           for c in colors]
fig.legend(handles, lengths, title="Test Length", ncol=5, loc="upper center",
           bbox_to_anchor=(0.478, 1.0), fontsize=10, title_fontsize=10,
           handlelength=2.0, handletextpad=0.6, columnspacing=2.0,
           borderpad=0.35, labelspacing=0.2, framealpha=1, edgecolor="0.8")

fig.savefig("out.png", dpi=100)
